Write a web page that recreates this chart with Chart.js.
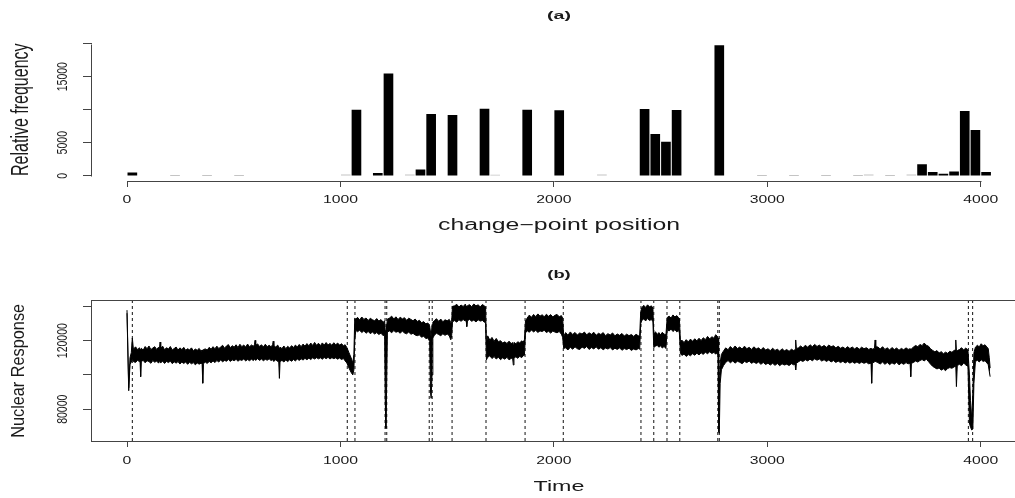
<!DOCTYPE html>
<html>
<head>
<meta charset="utf-8">
<title>Change-point positions and nuclear response</title>
<script src="https://cdn.jsdelivr.net/npm/chart.js@4.4.1/dist/chart.umd.min.js"></script>
<style>
  html, body { margin: 0; padding: 0; background: #fff; width: 1015px; height: 498px; overflow: hidden; }
  canvas { position: absolute; left: 0; }
  #freqCanvas { top: 0; }
  #respCanvas { top: 249px; }
</style>
</head>
<body>
<canvas id="freqCanvas" width="1030" height="249"></canvas>
<canvas id="respCanvas" width="1030" height="249"></canvas>
<script>
/* ===== (a) histogram of change-point positions, bins of 50 ===== */
const cpBins = [25, 225, 375, 525, 1025, 1075, 1175, 1225, 1325, 1375, 1425, 1525, 1675, 1725,
  1875, 2025, 2225, 2425, 2475, 2525, 2575, 2775, 2975, 3125, 3275, 3425, 3475, 3575, 3675,
  3725, 3775, 3825, 3875, 3925, 3975, 4025];
const cpFreq = [450, 20, 20, 20, 120, 9950, 350, 15450, 150, 900, 9290, 9140, 10100, 100,
  9950, 9850, 150, 10050, 6260, 5100, 9900, 19700, 20, 20, 20, 20, 150, 20, 150,
  1670, 500, 250, 600, 9740, 6860, 500];

const freqTicks = [0, 5000, 10000, 15000, 20000];
const freqTickLabels = ["0", "5000", "", "15000", ""];
const posTicks = [0, 1000, 2000, 3000, 4000];
const posTickLabels = ["0", "1000", "2000", "3000", "4000"];

/* ===== (b) nuclear response: upper / lower edge of the noisy trace ===== */
const respTime = [
  0, 8, 14, 20, 25, 30,
  40, 50, 58, 61, 64, 67, 76, 85, 94, 103, 112, 121, 130, 139, 148, 152, 155, 158, 167, 176,
  185, 194, 203, 212, 221, 230, 239, 248, 257, 266, 275, 284, 293, 302, 311, 320, 329, 338, 347, 352, 355, 358,
  367, 376, 385, 394, 403, 412, 421, 430, 439, 448, 457, 466, 475, 484, 493, 502, 511, 520, 529, 538,
  547, 556, 565, 574, 583, 592, 597, 600, 603, 612, 621, 630, 639, 648, 657, 666, 675, 682, 685, 688,
  697, 706, 711, 714, 717,
  726, 735, 744, 753, 762, 771, 780, 789, 798, 807, 816, 825, 834, 843, 852, 861, 870, 879, 888, 897,
  906, 915, 924, 933, 942, 951, 960, 969, 978, 987, 996, 1005, 1014, 1022, 1030, 1040, 1050, 1058, 1063, 1067,
  1072,
  1080, 1090, 1100, 1110, 1120, 1130, 1140, 1150, 1160, 1170, 1180, 1190, 1200, 1207, 1210, 1213, 1216, 1220,
  1230, 1240, 1250, 1260, 1270, 1280, 1290, 1300, 1310, 1320, 1330, 1340, 1350, 1360, 1370, 1380, 1390, 1400, 1410, 1418,
  1422, 1425, 1429, 1433,
  1440, 1450, 1460, 1470, 1480, 1490, 1500, 1510, 1517, 1521, 1525,
  1535, 1545, 1555, 1565, 1575, 1585, 1589, 1592, 1595, 1605, 1615, 1625, 1635, 1645, 1655, 1665, 1675, 1680, 1684,
  1690, 1700, 1710, 1720, 1730, 1740, 1750, 1760, 1770, 1780, 1790, 1800, 1807, 1810, 1813, 1822, 1831, 1840, 1849, 1856,
  1862, 1867,
  1875, 1885, 1895, 1905, 1915, 1925, 1935, 1945, 1955, 1965, 1975, 1985, 1995, 2005, 2015, 2025, 2035, 2041, 2046,
  2055, 2066, 2077, 2088, 2099, 2110, 2121, 2132, 2143, 2154, 2165, 2176, 2187, 2198, 2209, 2220, 2231, 2242, 2253, 2264,
  2275, 2286, 2297, 2308, 2319, 2330, 2341, 2352, 2363, 2374, 2385, 2396, 2402, 2407,
  2412, 2421, 2430, 2439, 2448, 2457, 2464, 2468, 2476, 2484, 2492, 2500, 2508, 2516, 2525, 2531, 2540, 2549, 2558, 2567,
  2576, 2584, 2588, 2593,
  2600, 2610, 2620, 2630, 2640, 2650, 2660, 2670, 2680, 2690, 2700, 2710, 2720, 2730, 2740, 2750, 2758, 2765, 2769, 2772,
  2775, 2779, 2785, 2795,
  2805, 2816, 2827, 2838, 2849, 2860, 2871, 2882, 2893, 2904, 2915, 2926, 2937, 2948, 2959, 2970, 2981, 2992, 3003, 3014,
  3025, 3036, 3047, 3058, 3069, 3080, 3091, 3102, 3113, 3124, 3130, 3133, 3136,
  3145, 3156, 3167, 3178, 3189, 3200, 3211, 3222, 3233, 3244, 3255, 3266, 3277, 3288, 3299, 3310, 3321, 3332, 3343, 3354,
  3365, 3376, 3387, 3398, 3409, 3420, 3431, 3442, 3453, 3464, 3475, 3486, 3489, 3492, 3502, 3505, 3508,
  3518, 3529, 3540, 3551, 3562, 3573, 3584, 3595, 3606, 3617, 3628, 3639, 3650, 3660, 3669, 3672, 3675, 3685, 3695, 3705,
  3715, 3725, 3735, 3745, 3755, 3765, 3775, 3785, 3795, 3805, 3815, 3825, 3835, 3845, 3855, 3865, 3875, 3880, 3883, 3886,
  3890,
  3900, 3910, 3920, 3930, 3940, 3947, 3952, 3958, 3963, 3968, 3975, 3984, 3993, 4002, 4011, 4020, 4029, 4035, 4040, 4044
];
const respHigh = [
  137800, 92500, 110000, 113000, 121500, 115000,
  116400, 114700, 115900, 115000, 113500, 115600, 114500, 116600, 115300, 116900, 114800, 115700, 116500, 114900, 116200, 115300, 119200, 115600, 116800, 114700,
  115900, 115100, 116600, 114600, 115400, 116300, 114500, 115800, 114800, 116100, 114400, 115300, 114600, 115800, 114100, 115100, 114400, 115500, 113900, 114600, 113400, 114800,
  115200, 114500, 116100, 115000, 116500, 115300, 116800, 115400, 116300, 117300, 115600, 116900, 117700, 115900, 117100, 116200, 117600, 116000, 117900, 116500,
  117400, 116300, 118000, 116400, 117500, 116700, 117600, 120200, 117300, 118100, 116600, 117600, 116300, 117900, 116500, 117300, 116400, 117600, 119700, 117000,
  116300, 117400, 116400, 115000, 116200,
  115400, 116900, 115300, 116700, 115700, 117100, 116000, 117400, 116300, 117800, 116500, 118000, 116800, 118300, 117000, 118600, 117200, 119000, 117300, 118500,
  117100, 118700, 117400, 118900, 117500, 118400, 117300, 118800, 117600, 118600, 117400, 118200, 117100, 117600, 116000, 113000, 110000, 107000, 112000, 133000,
  132500,
  133600, 132100, 133800, 132400, 133200, 131800, 133000, 132200, 131600, 132900, 131400, 132300, 130800, 131500, 126000, 118000, 128000, 132500,
  133200, 134300, 132600, 133900, 132300, 133700, 132700, 133400, 131900, 133100, 132400, 131600, 132600, 131200, 131900, 130400, 131100, 129800, 130300, 128400,
  125000, 122000, 129000, 130800,
  131700, 132800, 131300, 132600, 131000, 132200, 131600, 132400, 130600, 131000, 140000,
  140300, 141200, 139600, 140800, 139900, 141300, 140200, 139000, 140400, 141000, 139800, 141400, 140300, 140900, 139700, 141100, 140200, 139800, 118000,
  122800, 120300, 121900, 119700, 121300, 119400, 120000, 118600, 119300, 118400, 119700, 118300, 118900, 117500, 119000, 118200, 119400, 118600, 119900, 119100,
  120500, 131500,
  133200, 134900, 133600, 135300, 134000, 135600, 134300, 135100, 133900, 135400, 134200, 135200, 133800, 134800, 135300, 133900, 134600, 133300, 122500,
  124700, 123200, 125100, 123600, 124800, 123300, 124500, 123900, 125000, 123400, 124600, 123700, 124900, 123100, 124300, 123600, 124700, 122900, 124100, 123300,
  124500, 122800, 123900, 123100, 124200, 122700, 123800, 122900, 123600, 122500, 123700, 122800, 123200, 137000,
  139200, 140600, 139400, 140900, 139700, 140300, 139000, 123500, 125200, 123600, 124700, 123400, 124900, 123800, 123500, 133500, 134300, 133200, 135000, 133800,
  134600, 133400, 133000, 119500,
  120300, 118900, 120600, 119300, 120900, 119600, 121100, 119900, 121400, 120100, 121700, 120600, 122500, 121000, 122300, 121400, 123500, 122600, 121500, 100000,
  93000, 107000, 112000, 114000,
  115800, 114700, 116600, 115200, 116900, 115400, 116300, 115100, 116800, 115300, 116100, 114900, 116400, 115200, 115800, 114600, 116000, 114500, 115300, 114200,
  115600, 114300, 115000, 113900, 115300, 114100, 114800, 113800, 115000, 114200, 114800, 120400, 115500,
  115700, 116900, 115800, 117300, 116200, 117600, 116500, 117800, 116600, 117400, 116300, 117200, 116100, 117400, 116500, 117000, 115800, 116700, 115600, 116300,
  115300, 116500, 115400, 116300, 115200, 116100, 115000, 116200, 115300, 115900, 114900, 115500, 114500, 115000, 115500, 120400, 116500,
  116300, 115100, 116500, 114900, 115800, 114600, 116000, 114800, 115700, 114400, 115500, 114700, 115800, 114900, 115300, 114500, 115200, 116300, 117200, 116500,
  117800, 117100, 118600, 117300, 116800, 115200, 114300, 113500, 114200, 112800, 113600, 112400, 113300, 112600, 113800, 113200, 114300, 114500, 120400, 114000,
  114200,
  114800, 115900, 114600, 115700, 114500, 100000, 85000, 74000, 90000, 113000, 116200, 117300, 116400, 118200, 117000, 117600, 116200, 115500, 110000, 104000
];
const respLow = [
  136000, 90800, 106000, 107500, 109500, 107800,
  107300, 108600, 107700, 108400, 99000, 107900, 108500, 107100, 108300, 107800, 106800, 108400, 107400, 108100, 106900, 107800, 108300, 107200, 108000, 106700,
  107900, 107200, 108100, 106600, 107700, 106900, 107800, 106400, 107500, 106700, 107600, 106200, 107400, 106500, 107200, 105900, 107000, 106300, 106900, 106100, 95200, 106600,
  107500, 106700, 107900, 107100, 108200, 107200, 108400, 107600, 108700, 107700, 108500, 108000, 109000, 107900, 108800, 108300, 109100, 108000, 108900, 108500,
  109300, 108200, 109000, 108300, 109200, 108400, 109000, 109400, 108600, 109500, 108500, 109300, 108300, 109100, 108600, 109400, 108400, 108900, 108300, 108000,
  108900, 107900, 107500, 98000, 107800,
  108500, 107600, 108700, 107800, 108800, 108000, 109000, 108200, 109300, 108500, 109400, 108700, 109700, 108900, 109800, 109000, 110000, 109300, 110100, 109400,
  110000, 109200, 110200, 109500, 110300, 109300, 110100, 109500, 110000, 109200, 109900, 109000, 109600, 108200, 107000, 104000, 101500, 100000, 103000, 120000,
  126000,
  125200, 126100, 124700, 125800, 124300, 125400, 124100, 125000, 123900, 124700, 123600, 124400, 122900, 123500, 85000, 68900, 90000, 125000,
  125700, 124600, 125900, 124900, 125400, 124300, 125600, 124500, 124000, 125100, 123700, 124300, 123300, 122900, 123400, 122000, 122600, 121200, 121600, 119500,
  90000, 86400, 100000, 121500,
  123200, 124300, 123600, 122900, 124000, 123100, 123900, 122800, 120500, 122800, 131000,
  131700, 130800, 132200, 131300, 132300, 131500, 131900, 128200, 131600, 132400, 131300, 132000, 130900, 132200, 131400, 131800, 130700, 130300, 108800,
  110300, 111200, 109600, 110700, 109300, 110400, 108900, 110000, 109200, 110300, 108800, 109700, 109500, 105800, 109800, 110600, 109700, 110900, 110100, 111200,
  111500, 124500,
  125800, 124900, 126200, 125100, 126000, 124800, 125700, 125300, 126100, 124700, 125500, 124400, 125600, 125000, 124600, 125400, 123800, 122000, 115500,
  115800, 114600, 116200, 115000, 116400, 115300, 114800, 116300, 115500, 116600, 114900, 116000, 115200, 116400, 115000, 115900, 114700, 115700, 115100, 116000,
  114600, 115600, 114900, 115800, 114400, 115400, 114800, 115600, 114300, 115200, 114600, 115400, 115000, 130000,
  131800, 132700, 131500, 133000, 131700, 132400, 131000, 116000, 116800, 117300, 116200, 117000, 115700, 116600, 115500, 126500, 125600, 126800, 125300, 126400,
  125100, 126000, 124500, 112500,
  111400, 112200, 110800, 111900, 111200, 112400, 111500, 112700, 111700, 112900, 112000, 113300, 112300, 113600, 112500, 113200, 112100, 113000, 111500, 67000,
  66000, 95000, 103000, 105500,
  107300, 108400, 107100, 108200, 106900, 108000, 107400, 106600, 107900, 107200, 108100, 106800, 107600, 106700, 107500, 106200, 107300, 106100, 106900, 105800,
  106800, 105600, 106700, 105400, 106500, 105800, 106300, 105500, 106600, 105900, 106400, 102900, 106800,
  107600, 108500, 107900, 108900, 108200, 109200, 108300, 109400, 108600, 109300, 108100, 108900, 107900, 108700, 107600, 108400, 107300, 108100, 107200, 108000,
  107000, 107800, 106900, 107700, 106800, 107600, 106700, 107500, 106800, 107400, 106500, 106900, 95200, 107000, 107500, 108000, 107800,
  107200, 106400, 107500, 106200, 107300, 106000, 107100, 106300, 107400, 105900, 107000, 106200, 107200, 106500, 106900, 99000, 106800, 107300, 108200, 107500,
  108400, 109000, 108200, 109200, 107800, 106300, 105000, 104200, 103500, 104100, 102800, 103600, 102500, 103800, 104300, 103900, 104700, 105000, 105500, 93200,
  105500,
  106200, 105400, 107000, 105800, 105000, 72000, 69500, 67900, 68500, 95000, 107800, 108600, 107600, 108900, 107900, 108300, 107000, 106000, 102000, 99000
];

// detected change points (dashed verticals)
const cpLines = [25, 1032, 1068, 1209, 1217, 1416, 1430, 1523, 1682, 1865, 2044, 2408, 2468,
  2530, 2590, 2768, 2775, 3942, 3962];

const respTicks = [80000, 100000, 120000, 140000];
const respTickLabels = ["80000", "", "120000", ""];

const FONT = '"Liberation Sans", Arial, Helvetica, sans-serif';
const AXIS_COLOR = "#444";
const TEXT_COLOR = "#1a1a1a";
const X_MIN = -164, X_MAX = 4212;
const RESP_MIN = 61500, RESP_MAX = 143300;

// text drawn wider than it is tall, like the R device output
function stretchedText(ctx, text, x, y, o) {
  ctx.save();
  ctx.translate(x, y);
  ctx.scale(o.sx, 1);
  if (o.vertical) ctx.rotate(-Math.PI / 2);
  ctx.font = (o.bold ? "bold " : "") + o.size + "px " + FONT;
  ctx.fillStyle = TEXT_COLOR;
  ctx.textAlign = "center";
  ctx.textBaseline = o.baseline || "middle";
  ctx.fillText(text, 0, 0);
  ctx.restore();
}

function xTickLabels(ctx, scale, yPos) {
  posTicks.forEach((v, i) => {
    stretchedText(ctx, posTickLabels[i], scale.getPixelForValue(v), yPos, { size: 10.5, sx: 1.5 });
  });
}

function yTickLabels(ctx, scale, ticks, labels, xPos) {
  ticks.forEach((v, i) => {
    if (!labels[i]) return;
    stretchedText(ctx, labels[i], xPos, scale.getPixelForValue(v), { size: 10.5, sx: 1.48, vertical: true });
  });
}

/* ===== axes / titles for panel (a) ===== */
const panelA = {
  id: "panelA",
  afterDraw(chart) {
    const { ctx, chartArea: a, scales: { x, y } } = chart;
    const cx = (a.left + a.right) / 2;
    ctx.save();
    ctx.strokeStyle = AXIS_COLOR;
    ctx.lineWidth = 1;
    ctx.beginPath();
    const yb = Math.round(a.bottom) + 0.5;
    ctx.moveTo(Math.round(x.getPixelForValue(posTicks[0])) + 0.5, yb);
    ctx.lineTo(Math.round(x.getPixelForValue(posTicks[posTicks.length - 1])) + 0.5, yb);
    const xl = Math.round(a.left) - 0.5;
    ctx.moveTo(xl, Math.round(y.getPixelForValue(freqTicks[0])) + 0.5);
    ctx.lineTo(xl, Math.round(y.getPixelForValue(freqTicks[freqTicks.length - 1])) + 0.5);
    ctx.stroke();
    ctx.restore();

    xTickLabels(ctx, x, a.bottom + 19.5);
    yTickLabels(ctx, y, freqTicks, freqTickLabels, a.left - 29);

    stretchedText(ctx, "(a)", cx, 15.8, { size: 11.5, sx: 1.7, bold: true });
    stretchedText(ctx, "change\u2212point position", cx, a.bottom + 49, { size: 16, sx: 1.55, baseline: "alphabetic" });
    stretchedText(ctx, "Relative frequency", 28, (a.top + a.bottom) / 2, { size: 16, sx: 1.45, vertical: true, baseline: "alphabetic" });
  }
};

/* ===== box / titles for panel (b) ===== */
const panelB = {
  id: "panelB",
  afterDraw(chart) {
    const { ctx, chartArea: a, scales: { x, y } } = chart;
    const cx = (a.left + a.right) / 2;
    ctx.save();
    ctx.strokeStyle = AXIS_COLOR;
    ctx.lineWidth = 1;
    const l = Math.round(a.left) - 0.5, t = Math.round(a.top) - 0.5, b = Math.round(a.bottom) + 0.5;
    ctx.strokeRect(l, t, Math.round(a.right) - l, b - t);
    ctx.restore();

    xTickLabels(ctx, x, a.bottom + 19.8);
    yTickLabels(ctx, y, respTicks, respTickLabels, a.left - 29);

    stretchedText(ctx, "(b)", cx, 26, { size: 11.5, sx: 1.6, bold: true });
    stretchedText(ctx, "Time", cx, a.bottom + 50, { size: 15.5, sx: 1.5, baseline: "alphabetic" });
    stretchedText(ctx, "Nuclear Response", 24.4, (a.top + a.bottom) / 2, { size: 16.3, sx: 1.14, vertical: true, baseline: "alphabetic" });
  }
};

const tickGrid = (len) => ({
  display: true, drawOnChartArea: false, drawTicks: true, tickLength: len,
  color: AXIS_COLOR, lineWidth: 1, offset: false
});

const baseOptions = {
  responsive: false,
  animation: false,
  devicePixelRatio: 1,
  events: [],
  plugins: { legend: { display: false }, tooltip: { enabled: false } }
};

/* ===== (a) BAR CHART ===== */
new Chart(document.getElementById("freqCanvas"), {
  type: "bar",
  data: {
    datasets: [{
      data: cpBins.map((b, i) => ({ x: b, y: cpFreq[i] })),
      backgroundColor: c => (cpFreq[c.dataIndex] < 200 ? "#c4c4c4" : "#000000"),
      borderWidth: 0,
      barThickness: 9
    }]
  },
  options: {
    ...baseOptions,
    layout: { padding: { top: 38.4, right: 4, bottom: 0, left: 0 } },
    scales: {
      x: {
        type: "linear", min: X_MIN, max: X_MAX, offset: false,
        afterBuildTicks: s => { s.ticks = posTicks.map(v => ({ value: v })); },
        afterFit: s => { s.height = 68; },
        ticks: { display: false },
        grid: tickGrid(6),
        border: { display: false }
      },
      y: {
        type: "linear", min: -800, max: 20800,
        afterBuildTicks: s => { s.ticks = freqTicks.map(v => ({ value: v })); },
        afterFit: s => { s.width = 92; },
        ticks: { display: false },
        grid: tickGrid(9),
        border: { display: false }
      }
    }
  },
  plugins: [panelA]
});

/* ===== (b) RESPONSE TRACE ===== */
const cpLineData = [];
cpLines.forEach(c => {
  cpLineData.push({ x: c, y: RESP_MIN }, { x: c, y: RESP_MAX }, { x: c, y: null });
});

new Chart(document.getElementById("respCanvas"), {
  type: "line",
  data: {
    datasets: [
      {
        data: cpLineData,
        borderColor: "#111",
        borderWidth: 1,
        borderDash: [3, 3],
        pointRadius: 0,
        fill: false,
        spanGaps: false,
        order: 2
      },
      {
        data: respTime.map((t, i) => ({ x: t, y: respHigh[i] })),
        borderColor: "#000",
        backgroundColor: "#000",
        borderWidth: 1,
        pointRadius: 0,
        fill: "+1",
        order: 1
      },
      {
        data: respTime.map((t, i) => ({ x: t, y: respLow[i] })),
        borderColor: "#000",
        borderWidth: 1,
        pointRadius: 0,
        fill: false,
        order: 1
      }
    ]
  },
  options: {
    ...baseOptions,
    elements: { line: { tension: 0, borderJoinStyle: "bevel" } },
    layout: { padding: { top: 51.7, right: 4, bottom: 0, left: 0 } },
    scales: {
      x: {
        type: "linear", min: X_MIN, max: X_MAX,
        afterBuildTicks: s => { s.ticks = posTicks.map(v => ({ value: v })); },
        afterFit: s => { s.height = 57; },
        ticks: { display: false },
        grid: tickGrid(6),
        border: { display: false }
      },
      y: {
        type: "linear", min: RESP_MIN, max: RESP_MAX,
        afterBuildTicks: s => { s.ticks = respTicks.map(v => ({ value: v })); },
        afterFit: s => { s.width = 92; },
        ticks: { display: false },
        grid: tickGrid(9),
        border: { display: false }
      }
    }
  },
  plugins: [panelB]
});
</script>
</body>
</html>
